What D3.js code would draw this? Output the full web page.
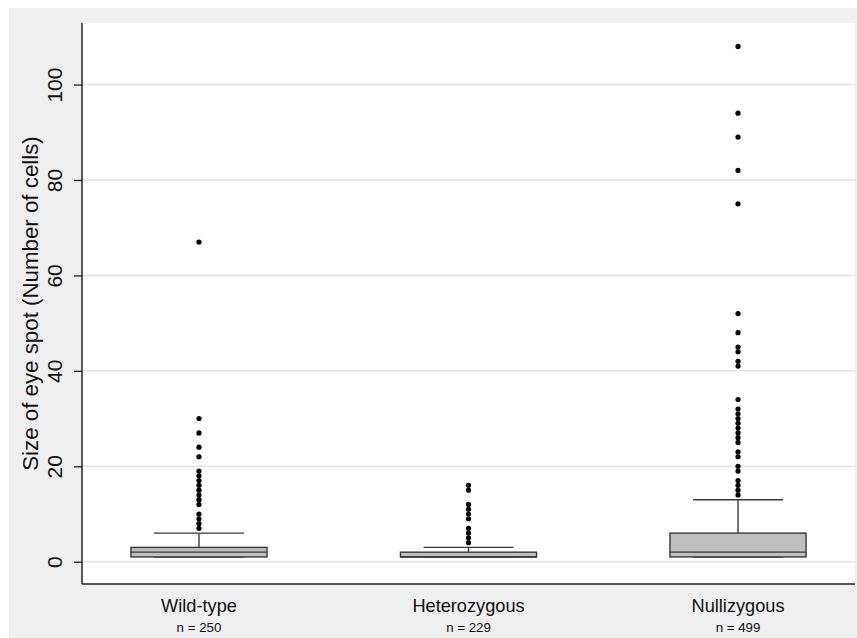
<!DOCTYPE html>
<html>
<head>
<meta charset="utf-8">
<script src="https://cdn.jsdelivr.net/npm/d3@7"></script>
<style>
  html, body { margin: 0; padding: 0; background: #fff; }
  svg { display: block; font-family: "Liberation Sans", Arial, sans-serif; }
</style>
</head>
<body>
<svg id="chart"></svg>
<script>
// genotype groups and sample sizes
const categories = ["Wild-type", "Heterozygous", "Nullizygous"];
const counts = [250, 229, 499];

// box summaries (number of cells)
const q1 = [1, 1, 1];
const medians = [2, 1, 2];
const q3 = [3, 2, 6];
const whiskerLow = [1, 1, 1];
const whiskerHigh = [6, 3, 13];

// outside values per group
const outliersWild = [67, 30, 27, 24, 22, 19, 18, 17, 16, 15, 14, 13, 12, 10, 9, 8, 7];
const outliersHet = [16, 15, 12, 11, 10, 9, 7, 6, 5, 4];
const outliersNull = [108, 94, 89, 82, 75, 52, 48, 45, 44, 42, 41, 34, 32, 31, 30, 29, 28, 27, 26, 25, 23, 22, 20, 19, 17, 16, 15, 14];

const yTicks = [0, 20, 40, 60, 80, 100];

const width = 857, height = 638;
const plot = { left: 82, right: 855, top: 23, bottom: 584 };

const svg = d3.select("#chart").attr("width", width).attr("height", height);

// outer graph region
svg.append("rect")
  .attr("x", 9).attr("y", 8)
  .attr("width", width - 9).attr("height", height - 8)
  .attr("fill", "#efefef");

// plot region
svg.append("rect")
  .attr("x", plot.left).attr("y", plot.top)
  .attr("width", plot.right - plot.left).attr("height", plot.bottom - plot.top)
  .attr("fill", "#fff");

const x = d3.scalePoint()
  .domain(categories)
  .range([plot.left, plot.right])
  .padding(0.434);

const y = d3.scaleLinear()
  .domain([-4.67, 112.9])
  .range([plot.bottom, plot.top]);

const step = x.step();
const boxW = step * 0.505;
const capW = step * 0.334;

// gridlines
svg.append("g")
  .selectAll("line")
  .data(yTicks)
  .enter()
  .append("line")
  .attr("x1", plot.left).attr("x2", plot.right)
  .attr("y1", d => y(d)).attr("y2", d => y(d))
  .attr("stroke", "#e4e4e4")
  .attr("stroke-width", 1.5);

// y axis
const yAxis = svg.append("g")
  .attr("transform", `translate(${plot.left},0)`)
  .call(d3.axisLeft(y).tickValues(yTicks).tickSize(8).tickSizeOuter(0));
yAxis.select(".domain").remove();
yAxis.selectAll(".tick line").attr("stroke", "#222").attr("stroke-width", 1.3);
yAxis.selectAll(".tick text")
  .attr("transform", "rotate(-90)")
  .attr("x", 0).attr("y", -20.3).attr("dy", 0)
  .attr("text-anchor", "middle")
  .attr("fill", "#111")
  .style("font-size", "21px");

// axis lines
svg.append("line")
  .attr("x1", plot.left).attr("x2", plot.left)
  .attr("y1", plot.top).attr("y2", plot.bottom)
  .attr("stroke", "#222").attr("stroke-width", 1.5);
svg.append("line")
  .attr("x1", plot.left).attr("x2", plot.right)
  .attr("y1", plot.bottom).attr("y2", plot.bottom)
  .attr("stroke", "#222").attr("stroke-width", 1.5);

// y title
svg.append("text")
  .attr("transform", `translate(38,${(plot.top + plot.bottom) / 2}) rotate(-90)`)
  .attr("text-anchor", "middle")
  .attr("fill", "#111")
  .style("font-size", "22.3px")
  .text("Size of eye spot (Number of cells)");

// category labels
const xlab = svg.append("g");
xlab.selectAll("text.cat")
  .data(categories)
  .enter()
  .append("text")
  .attr("class", "cat")
  .attr("x", d => x(d)).attr("y", 612.3)
  .attr("text-anchor", "middle")
  .attr("fill", "#111")
  .style("font-size", "18.2px")
  .text(d => d);
xlab.selectAll("text.n")
  .data(categories)
  .enter()
  .append("text")
  .attr("class", "n")
  .attr("x", d => x(d)).attr("y", 631.7)
  .attr("text-anchor", "middle")
  .attr("fill", "#111")
  .style("font-size", "13.3px")
  .text((d, i) => "n = " + counts[i]);

// boxes
const stats = categories.map((c, i) => ({
  cat: c, q1: q1[i], med: medians[i], q3: q3[i], lo: whiskerLow[i], hi: whiskerHigh[i]
}));
const boxes = svg.append("g").selectAll("g").data(stats).enter().append("g");
const stroke = "#3a3a3a";

boxes.append("line") // upper whisker
  .attr("x1", d => x(d.cat)).attr("x2", d => x(d.cat))
  .attr("y1", d => y(d.q3)).attr("y2", d => y(d.hi))
  .attr("stroke", stroke).attr("stroke-width", 1.4);
boxes.append("line")
  .attr("x1", d => x(d.cat)).attr("x2", d => x(d.cat))
  .attr("y1", d => y(d.q1)).attr("y2", d => y(d.lo))
  .attr("stroke", stroke).attr("stroke-width", 1.4);
boxes.append("line") // caps
  .attr("x1", d => x(d.cat) - capW / 2).attr("x2", d => x(d.cat) + capW / 2)
  .attr("y1", d => y(d.hi)).attr("y2", d => y(d.hi))
  .attr("stroke", stroke).attr("stroke-width", 1.4);
boxes.append("line")
  .attr("x1", d => x(d.cat) - capW / 2).attr("x2", d => x(d.cat) + capW / 2)
  .attr("y1", d => y(d.lo)).attr("y2", d => y(d.lo))
  .attr("stroke", stroke).attr("stroke-width", 1.4);
boxes.append("rect")
  .attr("x", d => x(d.cat) - boxW / 2)
  .attr("width", boxW)
  .attr("y", d => y(d.q3))
  .attr("height", d => y(d.q1) - y(d.q3))
  .attr("fill", "#bfbfbf")
  .attr("stroke", stroke).attr("stroke-width", 1.4);
boxes.append("line") // median
  .attr("x1", d => x(d.cat) - boxW / 2).attr("x2", d => x(d.cat) + boxW / 2)
  .attr("y1", d => y(d.med)).attr("y2", d => y(d.med))
  .attr("stroke", stroke).attr("stroke-width", 1.4);

// outside values
const outliers = [
  ...outliersWild.map(v => ({ cat: categories[0], v })),
  ...outliersHet.map(v => ({ cat: categories[1], v })),
  ...outliersNull.map(v => ({ cat: categories[2], v }))
];
svg.append("g")
  .selectAll("circle")
  .data(outliers)
  .enter()
  .append("circle")
  .attr("cx", d => x(d.cat))
  .attr("cy", d => y(d.v))
  .attr("r", 2.6)
  .attr("fill", "#000");
</script>
</body>
</html>
